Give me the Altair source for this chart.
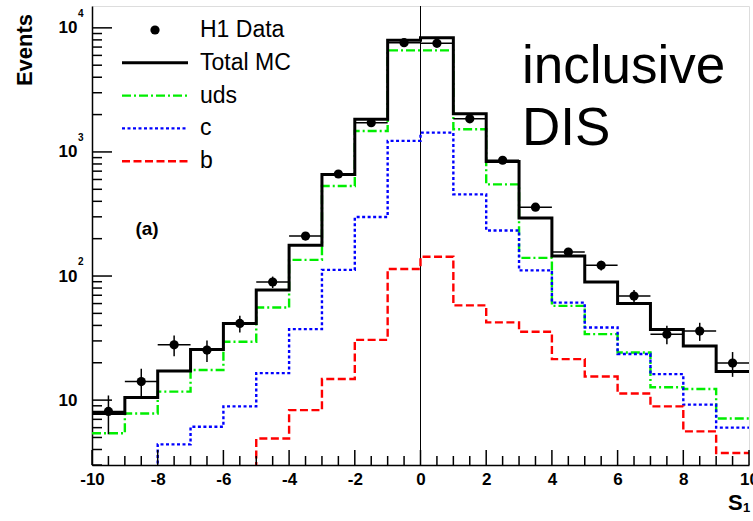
import altair as alt
import pandas as pd

# ---------------- data ----------------
bin_lo = list(range(-10, 10))
bin_hi = list(range(-9, 11))
bin_center = [-9.5, -8.5, -7.5, -6.5, -5.5, -4.5, -3.5, -2.5, -1.5, -0.5,
              0.5, 1.5, 2.5, 3.5, 4.5, 5.5, 6.5, 7.5, 8.5, 9.5]

h1_data = [8.1, 14.1, 27.9, 25.3, 41.5, 89.5, 210, 664, 1720, 7590,
           7500, 1850, 857, 359, 156, 122, 69, 34, 36, 19.9]
h1_err = [2.8, 3.8, 5.3, 5.0, 6.4, 9.5, 14.5, 25.8, 41.5, 87,
          87, 43, 29, 19, 12.5, 11, 8.3, 5.8, 6.0, 4.5]

total_mc = [7.8, 10.5, 17.2, 25.6, 41.5, 77, 177, 659, 1830, 7930,
            8320, 2030, 836, 294, 145, 89.5, 60, 37, 27.3, 17]
uds = [5.4, 7.8, 11.7, 17.5, 29.5, 55.7, 135, 531, 1475, 6590,
       6590, 1525, 548, 140, 57.5, 34, 24.2, 12.7, 12.3, 7.1]
charm = [1.5, 2.0, 4.4, 6.1, 8.9, 16.5, 37.3, 112, 299, 1227,
         1430, 455, 233, 111, 61, 38.5, 23.5, 16.2, 9.2, 6.0]
beauty = [1.0, 1.2, 1.5, 1.8, 2.2, 4.9, 8.3, 14.8, 30.6, 114,
          143, 58, 42.3, 35.6, 21.4, 15.5, 11.3, 8.9, 5.6, 3.75]

legend_labels = ["H1 Data", "Total MC", "uds", "c", "b"]
x_tick_values = [-10, -8, -6, -4, -2, 0, 2, 4, 6, 8, 10]
y_tick_values = [10, 100, 1000, 10000]
y_tick_exponents = ["", "2", "3", "4"]

# ---------------- layout / style ----------------
W, H = 657, 459
PAD = {"left": 92, "top": 6, "right": 4, "bottom": 56}
FONT = "Liberation Sans"
GREEN, BLUE, RED = "#00ee00", "#0000ff", "#ff0000"

xscale = alt.Scale(domain=[-10, 10], nice=False, zero=False)
yscale = alt.Scale(type="log", domain=[3, 15000], nice=False)

xaxis = alt.Axis(values=x_tick_values, title=None, ticks=False, grid=False,
                 labelFont=FONT, labelFontWeight="bold", labelFontSize=17,
                 labelColor="black", labelPadding=6, labelFlush=False,
                 labelOverlap=False, labelExpr="'' + datum.value",
                 domainColor="black", domainWidth=1.5)
yaxis = alt.Axis(values=y_tick_values, title=None, ticks=False, grid=False,
                 labelFont=FONT, labelFontWeight="bold", labelFontSize=17,
                 labelColor="black", labelPadding=15, labelFlush=False,
                 labelOverlap=False, labelExpr="'10'",
                 domainColor="black", domainWidth=1.5)


def X(field, **kw):
    return alt.X(field, type="quantitative", scale=xscale, axis=xaxis, **kw)


def Y(field, **kw):
    return alt.Y(field, type="quantitative", scale=yscale, axis=yaxis, **kw)


def step_df(values):
    edges = bin_lo + [bin_hi[-1]]
    vals = values + [values[-1]]
    return pd.DataFrame({"x": edges, "y": vals})


layers = []

# vertical line at 0
layers.append(alt.Chart(pd.DataFrame({"x": [0]})).mark_rule(
    color="black", strokeWidth=1).encode(x=X("x")))

# histograms
hist_styles = [
    (uds, GREEN, [9, 3, 2, 3], 2.4),
    (charm, BLUE, [3, 2.5], 2.4),
    (beauty, RED, [8, 3.5], 2.4),
    (total_mc, "black", None, 3),
]
for vals, col, dash, sw in hist_styles:
    kw = dict(color=col, strokeWidth=sw, interpolate="step-after", clip=True)
    if dash:
        kw["strokeDash"] = dash
    layers.append(alt.Chart(step_df(vals)).mark_line(**kw).encode(
        x=X("x"), y=Y("y")))

# data points with error bars
pts = pd.DataFrame({"xc": bin_center, "lo": bin_lo, "hi": bin_hi,
                    "y": h1_data,
                    "ylo": [v - e for v, e in zip(h1_data, h1_err)],
                    "yhi": [v + e for v, e in zip(h1_data, h1_err)]})
layers.append(alt.Chart(pts).mark_rule(color="black", strokeWidth=1.5).encode(
    x=X("lo"), x2="hi", y=Y("y")))
layers.append(alt.Chart(pts).mark_rule(color="black", strokeWidth=1.5).encode(
    x=X("xc"), y=Y("ylo"), y2="yhi"))
layers.append(alt.Chart(pts).mark_point(filled=True, size=85, color="black",
                                        opacity=1).encode(x=X("xc"), y=Y("y")))

# inside ticks (ROOT style)
y_major = pd.DataFrame({"v": y_tick_values})
y_minor_vals = [m * 10 ** d for d in range(0, 4) for m in range(2, 10)
                if 3 <= m * 10 ** d <= 15000]
y_minor = pd.DataFrame({"v": y_minor_vals})
layers.append(alt.Chart(y_major).mark_rule(color="black", strokeWidth=1.5).encode(
    y=Y("v"), x=alt.value(0), x2=alt.value(20)))
layers.append(alt.Chart(y_minor).mark_rule(color="black", strokeWidth=1.5).encode(
    y=Y("v"), x=alt.value(0), x2=alt.value(10)))

x_major = pd.DataFrame({"v": x_tick_values})
x_minor = pd.DataFrame({"v": [-10 + 0.5 * i for i in range(41)
                              if (-10 + 0.5 * i) not in x_tick_values]})
layers.append(alt.Chart(x_major).mark_rule(color="black", strokeWidth=1.5).encode(
    x=X("v"), y=alt.value(H), y2=alt.value(H - 15)))
layers.append(alt.Chart(x_minor).mark_rule(color="black", strokeWidth=1.5).encode(
    x=X("v"), y=alt.value(H), y2=alt.value(H - 9)))

# y-axis exponents
exp_df = pd.DataFrame({"v": y_tick_values, "e": y_tick_exponents})
layers.append(alt.Chart(exp_df).mark_text(
    font=FONT, fontWeight="bold", fontSize=10, align="left", baseline="middle",
    dy=-14, color="black").encode(y=Y("v"), x=alt.value(-14), text="e:N"))

# ---------------- legend (manual, ROOT style) ----------------
row0, row_step = 24, 32.8
one = pd.DataFrame({"k": [0]})
layers.append(alt.Chart(one).mark_point(filled=True, size=85, color="black",
                                        opacity=1).encode(
    x=alt.value(63), y=alt.value(row0)))
leg_lines = [("black", None, 3), (GREEN, [9, 3, 2, 3], 2.4),
             (BLUE, [3, 2.5], 2.4), (RED, [8, 3.5], 2.4)]
for i, (col, dash, sw) in enumerate(leg_lines):
    kw = dict(color=col, strokeWidth=sw)
    if dash:
        kw["strokeDash"] = dash
    yy = row0 + (i + 1) * row_step
    layers.append(alt.Chart(one).mark_rule(**kw).encode(
        x=alt.value(30), x2=alt.value(96), y=alt.value(yy)))
for i, lab in enumerate(legend_labels):
    yy = row0 + i * row_step + 7
    layers.append(alt.Chart(pd.DataFrame({"t": [lab]})).mark_text(
        font=FONT, fontSize=23, align="left", baseline="alphabetic",
        color="black").encode(x=alt.value(108), y=alt.value(yy), text="t:N"))

# ---------------- annotations ----------------
def txt(s, x, y, size, weight="normal", angle=0, align="left",
        baseline="alphabetic"):
    kw = dict(font=FONT, fontSize=size, fontWeight=weight, align=align,
              baseline=baseline, color="black")
    if angle:
        kw["angle"] = angle
    return alt.Chart(pd.DataFrame({"t": [s]})).mark_text(**kw).encode(
        x=alt.value(x), y=alt.value(y), text="t:N")

layers.append(txt("inclusive", 430, 77, 53))
layers.append(txt("DIS", 430, 139, 53))
layers.append(txt("(a)", 55, 223, 19, "bold", align="center",
                  baseline="middle"))
layers.append(txt("Events", -67, 44, 22, "bold", angle=270, align="center",
                  baseline="middle"))
layers.append(txt("S", 636, 504, 22, "bold"))
layers.append(txt("1", 651, 506, 13, "bold"))

chart = alt.layer(*layers).properties(
    width=W, height=H,
    autosize=alt.AutoSizeParams(type="none"),
    padding=PAD,
).configure_view(stroke="#333333", strokeWidth=1.2).configure(
    background="white")

chart.save("out.html", embed_options={"renderer": "svg", "actions": False})
